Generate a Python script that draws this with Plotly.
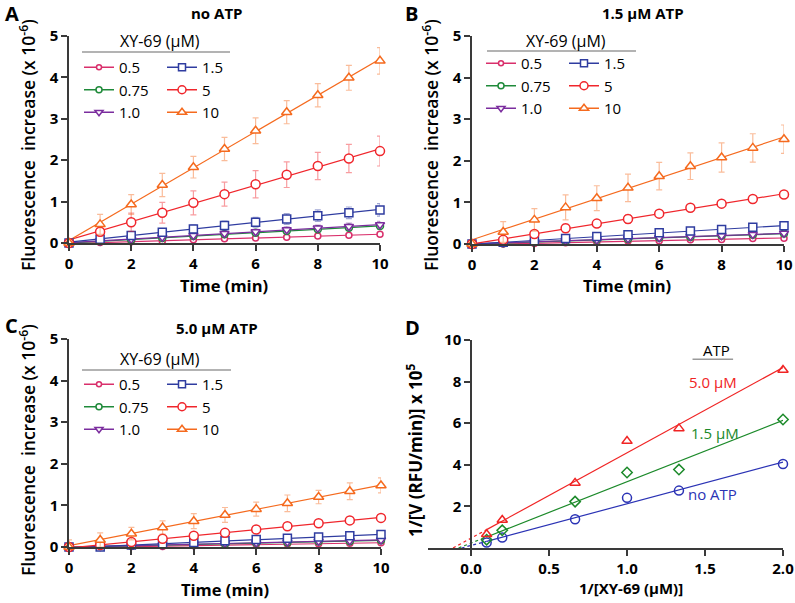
import numpy as np
import plotly.graph_objects as go

W, H = 795, 603
FONT = "Open Sans"

# ---------------- data ----------------
time_min = [0, 1, 2, 3, 4, 5, 6, 7, 8, 9, 10]
conc_labels = ["0.5", "0.75", "1.0", "1.5", "5", "10"]

# Panel A: no ATP
A_vals = {
    "0.5":  [0, 0.01, 0.03, 0.05, 0.08, 0.10, 0.12, 0.14, 0.17, 0.19, 0.21],
    "0.75": [0, 0.04, 0.08, 0.12, 0.17, 0.21, 0.25, 0.29, 0.33, 0.37, 0.41],
    "1.0":  [0, 0.05, 0.09, 0.14, 0.18, 0.23, 0.27, 0.32, 0.36, 0.40, 0.44],
    "1.5":  [0, 0.09, 0.18, 0.26, 0.34, 0.42, 0.50, 0.58, 0.66, 0.73, 0.80],
    "5":    [0, 0.27, 0.50, 0.73, 0.97, 1.18, 1.42, 1.65, 1.86, 2.04, 2.22],
    "10":   [0, 0.45, 0.93, 1.40, 1.83, 2.27, 2.71, 3.16, 3.57, 3.99, 4.40],
}
A_err = {
    "0.5":  [0, 0.01, 0.02, 0.02, 0.03, 0.03, 0.03, 0.04, 0.04, 0.04, 0.04],
    "0.75": [0, 0.02, 0.03, 0.04, 0.05, 0.05, 0.06, 0.06, 0.07, 0.07, 0.08],
    "1.0":  [0, 0.02, 0.03, 0.04, 0.05, 0.06, 0.06, 0.07, 0.07, 0.08, 0.08],
    "1.5":  [0, 0.04, 0.06, 0.08, 0.10, 0.11, 0.12, 0.13, 0.14, 0.14, 0.15],
    "5":    [0, 0.10, 0.22, 0.25, 0.29, 0.29, 0.33, 0.31, 0.33, 0.34, 0.36],
    "10":   [0, 0.24, 0.24, 0.28, 0.26, 0.28, 0.31, 0.28, 0.28, 0.30, 0.32],
}
# Panel B: 1.5 uM ATP
B_vals = {
    "0.5":  [0, 0.00, 0.01, 0.03, 0.05, 0.07, 0.08, 0.10, 0.11, 0.13, 0.14],
    "0.75": [0, 0.02, 0.05, 0.07, 0.10, 0.12, 0.15, 0.17, 0.20, 0.22, 0.25],
    "1.0":  [0, 0.03, 0.05, 0.08, 0.10, 0.13, 0.15, 0.18, 0.20, 0.23, 0.26],
    "1.5":  [0, 0.04, 0.08, 0.13, 0.18, 0.22, 0.27, 0.31, 0.35, 0.40, 0.44],
    "5":    [0, 0.10, 0.24, 0.38, 0.49, 0.60, 0.73, 0.87, 0.97, 1.08, 1.19],
    "10":   [0, 0.29, 0.58, 0.88, 1.10, 1.35, 1.63, 1.87, 2.08, 2.31, 2.52],
}
B_err = {
    "0.5":  [0, 0.01, 0.01, 0.01, 0.02, 0.02, 0.02, 0.02, 0.02, 0.02, 0.02],
    "0.75": [0, 0.01, 0.02, 0.02, 0.02, 0.03, 0.03, 0.03, 0.03, 0.03, 0.03],
    "1.0":  [0, 0.01, 0.02, 0.02, 0.02, 0.03, 0.03, 0.03, 0.03, 0.03, 0.03],
    "1.5":  [0, 0.02, 0.02, 0.03, 0.03, 0.04, 0.04, 0.04, 0.05, 0.05, 0.05],
    "5":    [0, 0.03, 0.04, 0.10, 0.08, 0.10, 0.06, 0.06, 0.06, 0.06, 0.05],
    "10":   [0, 0.25, 0.27, 0.30, 0.30, 0.33, 0.33, 0.32, 0.35, 0.34, 0.34],
}
# Panel C: 5.0 uM ATP
C_vals = {
    "0.5":  [0, 0.00, 0.01, 0.01, 0.03, 0.04, 0.06, 0.07, 0.08, 0.09, 0.10],
    "0.75": [0, 0.01, 0.03, 0.05, 0.06, 0.08, 0.10, 0.11, 0.13, 0.14, 0.16],
    "1.0":  [0, 0.01, 0.03, 0.05, 0.07, 0.09, 0.10, 0.12, 0.14, 0.15, 0.17],
    "1.5":  [0, 0.00, 0.05, 0.08, 0.11, 0.15, 0.18, 0.21, 0.24, 0.27, 0.30],
    "5":    [0, 0.05, 0.12, 0.20, 0.27, 0.34, 0.42, 0.50, 0.57, 0.64, 0.70],
    "10":   [0, 0.17, 0.32, 0.47, 0.62, 0.77, 0.91, 1.05, 1.20, 1.34, 1.48],
}
C_err = {
    "0.5":  [0, 0.01, 0.01, 0.01, 0.01, 0.01, 0.01, 0.01, 0.01, 0.01, 0.01],
    "0.75": [0, 0.01, 0.01, 0.01, 0.01, 0.02, 0.02, 0.02, 0.02, 0.02, 0.02],
    "1.0":  [0, 0.01, 0.01, 0.01, 0.01, 0.02, 0.02, 0.02, 0.02, 0.02, 0.02],
    "1.5":  [0, 0.01, 0.02, 0.02, 0.02, 0.02, 0.03, 0.03, 0.03, 0.03, 0.03],
    "5":    [0, 0.02, 0.02, 0.03, 0.03, 0.03, 0.03, 0.03, 0.03, 0.03, 0.03],
    "10":   [0.17, 0.17, 0.15, 0.16, 0.18, 0.18, 0.17, 0.20, 0.16, 0.20, 0.18],
}

# Panel D: double reciprocal
D_x = [0.1, 0.2, 0.667, 1.0, 1.333, 2.0]
D_noATP = [0.26, 0.50, 1.38, 2.41, 2.76, 4.04]
D_ATP15 = [0.40, 0.85, 2.23, 3.63, 3.77, 6.18]
D_ATP50 = [0.66, 1.35, 3.13, 5.14, 5.75, 8.56]

# ---------------- styles ----------------
series_style = {
    "0.5":  dict(color="#d92f6b", err="rgba(217,47,107,0.45)", symbol="circle", size=6),
    "0.75": dict(color="#1f8a3a", err="rgba(31,138,58,0.45)", symbol="circle", size=7),
    "1.0":  dict(color="#7b2d9e", err="rgba(123,45,158,0.45)", symbol="triangle-down", size=8),
    "1.5":  dict(color="#2f3ca0", err="rgba(47,60,160,0.45)", symbol="square", size=8),
    "5":    dict(color="#f0262c", err="rgba(240,38,44,0.45)", symbol="circle", size=9),
    "10":   dict(color="#f56a1e", err="rgba(245,106,30,0.45)", symbol="triangle-up", size=9),
}

def px_x(p):
    return p / W

def px_y(p):
    return 1 - p / H

fig = go.Figure()

panels = [
    ("x", "y", A_vals, A_err, ("legend", "legend2")),
    ("x2", "y2", B_vals, B_err, ("legend3", "legend4")),
    ("x3", "y3", C_vals, C_err, ("legend5", "legend6")),
]

t = np.array(time_min, dtype=float)
for xa, ya, vals, errs, legs in panels:
    # fit lines
    for lab in conc_labels:
        st = series_style[lab]
        y = np.array(vals[lab])
        k, b = np.polyfit(t[1:], y[1:], 1)
        xl = np.array([t[0], t[-1]])
        fig.add_trace(go.Scatter(
            x=xl, y=k * xl + b, mode="lines", xaxis=xa, yaxis=ya,
            line=dict(color=st["color"], width=1.2), showlegend=False,
            hoverinfo="skip", cliponaxis=False))
    # markers with error bars
    for i, lab in enumerate(conc_labels):
        st = series_style[lab]
        fig.add_trace(go.Scatter(
            x=time_min, y=vals[lab], mode="markers", xaxis=xa, yaxis=ya,
            marker=dict(symbol=st["symbol"], size=st["size"], color="white",
                        line=dict(color=st["color"], width=1.5)),
            error_y=dict(type="data", array=errs[lab], color=st["err"],
                         thickness=1.2, width=3),
            showlegend=False, cliponaxis=False))
    # legend entries (line + marker)
    for i, lab in enumerate(conc_labels):
        st = series_style[lab]
        fig.add_trace(go.Scatter(
            x=[None], y=[None], mode="lines+markers", xaxis=xa, yaxis=ya,
            name=lab, legend=legs[0] if i < 3 else legs[1],
            legendgroup=f"{xa}{lab}",
            marker=dict(symbol=st["symbol"], size=st["size"] - 1, color="white",
                        line=dict(color=st["color"], width=1.5)),
            line=dict(color=st["color"], width=1.5)))

# Panel D
D_series = [
    (D_noATP, "#2b33b5", "circle", 9),
    (D_ATP15, "#1c8a2a", "diamond", 8),
    (D_ATP50, "#f02424", "triangle-up", 9),
]
dx = np.array(D_x)
for yv, col, sym, sz in D_series:
    yv = np.array(yv)
    k, b = np.polyfit(dx, yv, 1)
    x_int = -b / k
    fig.add_trace(go.Scatter(
        x=[x_int, dx[0]], y=[0, k * dx[0] + b], mode="lines", xaxis="x4", yaxis="y4",
        line=dict(color=col, width=1.2, dash="dot"), showlegend=False, cliponaxis=False))
    fig.add_trace(go.Scatter(
        x=[dx[0], dx[-1]], y=[k * dx[0] + b, k * dx[-1] + b], mode="lines",
        xaxis="x4", yaxis="y4",
        line=dict(color=col, width=1.2), showlegend=False, cliponaxis=False))
    fig.add_trace(go.Scatter(
        x=D_x, y=yv, mode="markers", xaxis="x4", yaxis="y4",
        marker=dict(symbol=sym, size=sz, color="rgba(0,0,0,0)",
                    line=dict(color=col, width=1.5)),
        showlegend=False, cliponaxis=False))

# ---------------- axes ----------------
axis_common = dict(
    showline=True, linecolor="#3a3a3a", linewidth=1.5, ticks="outside",
    ticklen=6, tickwidth=1.5, tickcolor="#3a3a3a", showgrid=False, zeroline=False,
    automargin=False,
    tickfont=dict(family=FONT, size=15, color="black", weight="bold"),
)
xt = dict(range=[0, 10], tickvals=[0, 2, 4, 6, 8, 10], **axis_common)
yt = dict(range=[0, 5], tickvals=[0, 1, 2, 3, 4, 5], **axis_common)

fig.update_layout(
    xaxis=dict(domain=[px_x(69), px_x(380)], anchor="y", **xt),
    yaxis=dict(domain=[px_y(243), px_y(36)], anchor="x", **yt),
    xaxis2=dict(domain=[px_x(472), px_x(784)], anchor="y2", **xt),
    yaxis2=dict(domain=[px_y(244), px_y(36)], anchor="x2", **yt),
    xaxis3=dict(domain=[px_x(69), px_x(381)], anchor="y3", **xt),
    yaxis3=dict(domain=[px_y(547), px_y(339)], anchor="x3", **yt),
    xaxis4=dict(domain=[px_x(428), px_x(783)], anchor="y4", range=[-0.276, 2.0],
                tickvals=[0, 0.5, 1.0, 1.5, 2.0], tickformat=".1f", **axis_common),
    yaxis4=dict(domain=[px_y(548), px_y(340)], anchor="free", position=px_x(471),
                range=[0, 10], tickvals=[2, 4, 6, 8, 10], **axis_common),
)

# ---------------- legends ----------------
leg_common = dict(
    bgcolor="rgba(0,0,0,0)", borderwidth=0, xanchor="left", yanchor="top",
    font=dict(family=FONT, size=15, color="black"), itemwidth=30,
    tracegroupgap=0, traceorder="grouped", itemclick=False, itemdoubleclick=False,
)
leg_pos = {
    "legend": (79, 51), "legend2": (162, 51),
    "legend3": (481, 47), "legend4": (564, 47),
    "legend5": (79, 368), "legend6": (162, 368),
}
for name, (lx, ly) in leg_pos.items():
    fig.update_layout({name: dict(x=px_x(lx), y=px_y(ly), **leg_common)})

# ---------------- annotations ----------------
ann = []
def add_text(x, y, text, size=15, bold=False, angle=0, color="black", xanchor="center",
             yanchor="middle", weight=None):
    w = weight if weight is not None else ("bold" if bold else "normal")
    ann.append(dict(
        x=px_x(x), y=px_y(y), xref="paper", yref="paper", text=text, showarrow=False,
        textangle=angle, xanchor=xanchor, yanchor=yanchor,
        font=dict(family=FONT, size=size, color=color, weight=w)))

# panel letters
add_text(3, 13, "A", size=20, bold=True, xanchor="left")
add_text(403, 13, "B", size=20, bold=True, xanchor="left")
add_text(3, 325, "C", size=20, bold=True, xanchor="left")
add_text(403, 327, "D", size=20, bold=True, xanchor="left")
# panel titles
add_text(217, 13, "no ATP", size=15, bold=True)
add_text(643, 13, "1.5 µM ATP", size=15, bold=True)
add_text(217, 328, "5.0 µM ATP", size=15, bold=True)
# legend headers
add_text(160, 41, "XY-69 (µM)", size=16)
add_text(566, 41, "XY-69 (µM)", size=16)
add_text(160, 359, "XY-69 (µM)", size=16)
# axis titles
ytitle = "Fluorescence  increase (x 10<sup>-6</sup>)"
add_text(27, 145, ytitle, size=17.5, angle=-90, weight=600)
add_text(430, 145, ytitle, size=17.5, angle=-90, weight=600)
add_text(27, 450, ytitle, size=17.5, angle=-90, weight=600)
add_text(224, 285, "Time (min)", size=16.5, bold=True)
add_text(627, 285, "Time (min)", size=16.5, bold=True)
add_text(225, 589, "Time (min)", size=16.5, bold=True)
add_text(631, 588, "1/[XY-69 (µM)]", size=15, bold=True)
add_text(414, 450, "1/[V (RFU/min)] x 10<sup>5</sup>", size=17, angle=-90, bold=True)
# panel D labels (data coordinates)
for x, y, text, col in [(1.475, 9.5, "ATP", "black"), (1.385, 8.0, "5.0 µM", "#f02424"),
                        (1.395, 5.55, "1.5 µM", "#1c8a2a"), (1.38, 2.6, "no ATP", "#2b33b5")]:
    ann.append(dict(x=x, y=y, xref="x4", yref="y4", text=text, showarrow=False,
                    xanchor="left", font=dict(family=FONT, size=15, color=col)))

shapes = []
for x0, x1, y in [(82, 230, 52), (487, 636, 51), (82, 231, 370)]:
    shapes.append(dict(type="line", xref="paper", yref="paper",
                       x0=px_x(x0), x1=px_x(x1), y0=px_y(y), y1=px_y(y),
                       line=dict(color="#9a9a9a", width=1.5)))
shapes.append(dict(type="line", xref="x4", yref="y4", x0=1.42, x1=1.68, y0=9.07, y1=9.07,
                   line=dict(color="#9a9a9a", width=1.5)))

fig.update_layout(
    width=W, height=H, margin=dict(l=0, r=0, t=0, b=0, autoexpand=False),
    paper_bgcolor="white", plot_bgcolor="white",
    annotations=ann, shapes=shapes,
    font=dict(family=FONT, color="black"),
)

fig.write_html("out.html", config={"displayModeBar": False},
               post_script="document.body.style.margin='0';document.body.style.overflow='hidden';")
